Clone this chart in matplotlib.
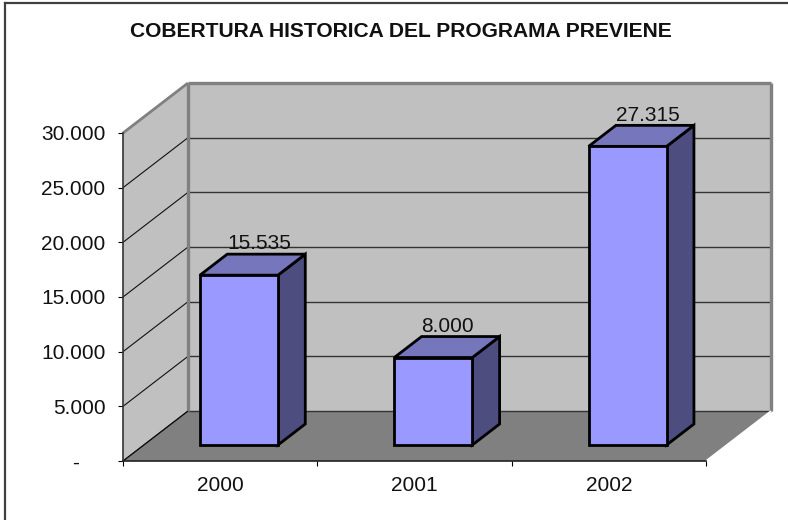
import matplotlib
matplotlib.use("Agg")
import matplotlib.pyplot as plt
from matplotlib.patches import Polygon
from matplotlib.lines import Line2D

plt.rcParams['font.family'] = ['Liberation Sans', 'DejaVu Sans']

# data
years = ['2000', '2001', '2002']
values = [15535, 8000, 27315]
value_labels = ['15.535', '8.000', '27.315']
y_ticks = [0, 5000, 10000, 15000, 20000, 25000, 30000]
y_tick_labels = ['-', '5.000', '10.000', '15.000', '20.000', '25.000', '30.000']

# 3D look: offset of the back wall, in data units
DX = 65 / 194.33
DY = 50 / 54.67 * 5000
BAR_W = 78 / 194.33
BAR_SHIFT = -2 / 194.33
BAR_FRONT = 0.32
BAR_BACK = 0.74

W, H = 788, 520


def proj(x, y, d=0.0):
    return (x + d * DX, y + d * DY)


fig = plt.figure(figsize=(W / 100, H / 100), dpi=100)
fig.patch.set_facecolor('white')
ax = fig.add_axes([123 / W, 1 - 461 / H, (706 - 123) / W, (461 - 133) / H])
ax.set_xlim(0, 3)
ax.set_ylim(0, 30000)
ax.patch.set_visible(False)

n = len(years)
top = y_ticks[-1]


def poly(pts, fc, ec='none', lw=0, z=1):
    ax.add_patch(Polygon(pts, closed=True, facecolor=fc, edgecolor=ec, linewidth=lw,
                         zorder=z, clip_on=False, joinstyle='miter'))


def seg(a, b, color, lw, z=2):
    ax.add_line(Line2D([a[0], b[0]], [a[1], b[1]], color=color, linewidth=lw,
                       zorder=z, clip_on=False, solid_capstyle='butt'))


# walls and floor
poly([proj(0, 0, 1), proj(n, 0, 1), proj(n, top, 1), proj(0, top, 1)], '#C0C0C0')
poly([proj(0, 0), proj(0, top), proj(0, top, 1), proj(0, 0, 1)], '#C0C0C0')
poly([proj(0, 0), proj(n, 0), proj(n, 0, 1), proj(0, 0, 1)], '#808080')

# gridlines
for t in y_ticks[:-1]:
    seg(proj(0, t), proj(0, t, 1), '#111111', 0.8, z=2)
    seg(proj(0, t, 1), proj(n, t, 1), '#333333', 1.0, z=2)

# wall borders
seg(proj(0, top), proj(0, top, 1), '#808080', 2.0, z=2)
seg(proj(0, top, 1), proj(n, top, 1), '#808080', 2.4, z=2)
seg(proj(0, 0, 1), proj(0, top, 1), '#808080', 2.4, z=2)
seg(proj(n, 0, 1), proj(n, top, 1), '#808080', 2.4, z=2)
seg(proj(n, 0), proj(n, 0, 1), '#FFFFFF', 1.2, z=2)
seg(proj(0, 0), proj(0, 0, 1), '#111111', 0.8, z=3)

# bars
for i, v in enumerate(values):
    x0 = i + 0.5 - BAR_W / 2 + BAR_SHIFT
    x1 = x0 + BAR_W
    f, b = BAR_FRONT, BAR_BACK
    poly([proj(x1, 0, f), proj(x1, 0, b), proj(x1, v, b), proj(x1, v, f)], '#4D4D80', 'black', 2.0, z=4)
    poly([proj(x0, v, f), proj(x1, v, f), proj(x1, v, b), proj(x0, v, b)], '#7676BC', 'black', 2.0, z=4)
    poly([proj(x0, 0, f), proj(x1, 0, f), proj(x1, v, f), proj(x0, v, f)], '#9999FF', 'black', 2.0, z=5)
    lx, ly = proj(x0, v, f)
    ax.annotate(value_labels[i], (lx, ly), xytext=(19.5, 22.5), textcoords='offset points',
                ha='left', va='center', fontsize=15, color='#111111', zorder=6)

# axes
for s in ['top', 'right']:
    ax.spines[s].set_visible(False)
ax.spines['left'].set_color('#333333')
ax.spines['bottom'].set_color('#222222')
ax.spines['left'].set_linewidth(1.2)
ax.spines['bottom'].set_linewidth(1.2)
ax.spines['left'].set_zorder(3)
ax.spines['bottom'].set_zorder(3)

ax.set_yticks(y_ticks)
ax.set_yticklabels(y_tick_labels)
ax.tick_params(axis='y', length=3.6, width=0.8, pad=9, labelsize=15, labelcolor='#111111')
ax.set_xticks(range(n + 1))
ax.set_xticklabels([''] * (n + 1))
ax.set_xticks([i + 0.5 for i in range(n)], minor=True)
ax.set_xticklabels(years, minor=True)
ax.tick_params(axis='x', which='major', length=3.6, width=0.8)
ax.tick_params(axis='x', which='minor', length=0, pad=11, labelsize=15, labelcolor='#111111')
for lab in ax.get_xticklabels(minor=True):
    lab.set_x(lab.get_position()[0])

# the zero label sits further left in the source
zero = ax.get_yticklabels()[0]
zero.set_text('-')
zero.set_x(-0.045)

# chart area border, only top and left are inside the picture
fig.add_artist(Line2D([5 / W, 5 / W], [0, 1 - 3 / H], color='#404040', linewidth=1.6))
fig.add_artist(Line2D([5 / W, 1], [1 - 3 / H, 1 - 3 / H], color='#404040', linewidth=1.6))

fig.text(401 / W, 1 - 31.5 / H, 'COBERTURA HISTORICA DEL PROGRAMA PREVIENE', ha='center', va='center',
         fontsize=15.1, fontweight='bold', color='#111111')

fig.savefig('out.png', dpi=100)
